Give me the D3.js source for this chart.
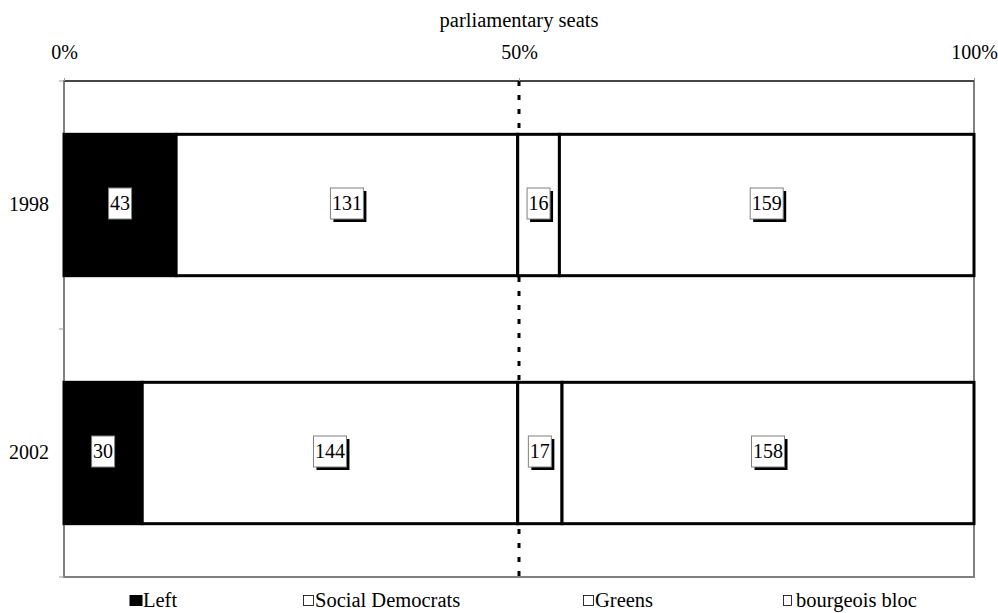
<!DOCTYPE html>
<html>
<head>
<meta charset="utf-8">
<script src="https://cdn.jsdelivr.net/npm/d3@7"></script>
<style>
body{margin:0;background:#fff;}
svg text{font-family:"Liberation Serif","DejaVu Serif",serif !important;fill:#000;}
</style>
</head>
<body>
<div id="chart"></div>
<script>
var years = ["1998","2002"];
var parties = ["Left","Social Democrats","Greens","bourgeois bloc"];
var seats1998 = [43,131,16,159];
var seats2002 = [30,144,17,158];
var tickLabels = ["0%","50%","100%"];
var partyFill = ["#000","#fff","#fff","#fff"];

var W = 998, H = 613;
var m = {left:64, right:24, top:81, bottom:36};

var svg = d3.select("#chart").append("svg").attr("width",W).attr("height",H);

var rows = years.map(function(y,i){
	var o = {year:y};
	var v = i==0 ? seats1998 : seats2002;
	parties.forEach(function(p,j){ o[p]=v[j]; });
	return o;
});
var stacked = d3.stack().keys(parties).offset(d3.stackOffsetExpand)(rows);

var x = d3.scaleLinear().domain([0,1]).range([m.left, W-m.right]);
var y = d3.scaleBand().domain(years).range([m.top, H-m.bottom]).paddingInner(0.43).paddingOuter(0.215);
var yb = d3.scaleBand().domain(years).range([m.top, H-m.bottom]);

// plot area
svg.append("rect").attr("x",x(0)).attr("y",m.top).attr("width",x(1)-x(0)).attr("height",H-m.bottom-m.top)
	.attr("fill","#fff").attr("stroke","#808080").attr("stroke-width",2);
svg.append("line").attr("x1",x(0)).attr("x2",x(1)).attr("y1",m.top).attr("y2",m.top)
	.attr("stroke","#333").attr("stroke-width",1.5);

// 50% dotted line
svg.append("line").attr("x1",x(0.5)).attr("x2",x(0.5)).attr("y1",m.top).attr("y2",H-m.bottom)
	.attr("stroke","#000").attr("stroke-width",3).attr("stroke-dasharray","5,9");

// top axis
var xAxis = svg.append("g").attr("transform","translate(0,"+m.top+")")
	.call(d3.axisTop(x).tickValues([0,0.5,1]).tickFormat(function(d,i){return tickLabels[i];}).tickSize(3).tickPadding(19));
xAxis.select(".domain").remove();
xAxis.selectAll("line").attr("stroke","#999");
xAxis.selectAll("text").attr("font-size",20);

svg.append("text").attr("x",x(0.5)).attr("y",27).attr("text-anchor","middle").attr("font-size",20.5).text("parliamentary seats");

// left axis
var yAxis = svg.append("g").attr("transform","translate("+m.left+",0)")
	.call(d3.axisLeft(y).tickSize(0).tickPadding(15));
yAxis.select(".domain").remove();
yAxis.selectAll("text").attr("font-size",20).attr("dy","0.28em");
svg.append("g").selectAll("line").data([m.top, yb(years[1]), H-m.bottom]).enter().append("line")
	.attr("x1",m.left-5).attr("x2",m.left).attr("y1",function(d){return d;}).attr("y2",function(d){return d;})
	.attr("stroke","#999");

// bars
stacked.forEach(function(s,k){
	var g = svg.append("g");
	g.selectAll("rect").data(s).enter().append("rect")
		.attr("x",function(d){return x(d[0]);})
		.attr("y",function(d){return y(d.data.year);})
		.attr("width",function(d){return x(d[1])-x(d[0]);})
		.attr("height",y.bandwidth())
		.attr("fill",partyFill[k]).attr("stroke","#000").attr("stroke-width",3);
});

// labels
stacked.forEach(function(s,k){
	s.forEach(function(d){
		var cx = (x(d[0])+x(d[1]))/2, cy = y(d.data.year)+y.bandwidth()/2;
		var g = svg.append("g");
		var t = g.append("text").attr("x",cx).attr("y",cy+5).attr("text-anchor","middle").attr("font-size",20)
			.text(d.data[s.key]);
		var bb = t.node().getBBox();
		var bx = bb.x-1.5, by = cy-17, bw = bb.width+3, bh = 31;
		g.insert("rect","text").attr("x",bx+3).attr("y",by+3).attr("width",bw).attr("height",bh).attr("fill","#000");
		g.insert("rect","text").attr("x",bx).attr("y",by).attr("width",bw).attr("height",bh)
			.attr("fill","#fff").attr("stroke","#808080").attr("stroke-width",1);
	});
});

// legend
var legX = [129,303,583,783];
var leg = svg.append("g").selectAll("g").data(parties).enter().append("g")
	.attr("transform",function(d,i){return "translate("+legX[i]+",606)";});
leg.append("rect").attr("x",0.5).attr("y",function(d,i){return i==0?-11:-10.5;})
	.attr("width",function(d,i){return i==0?13:(i==3?8:10);}).attr("height",function(d,i){return i==0?11:10;})
	.attr("fill",function(d,i){return partyFill[i];}).attr("stroke","#000").attr("stroke-width",function(d,i){return i==0?0:0.8;});
leg.append("text").attr("x",function(d,i){return i==0?14:(i==3?13:12);}).attr("y",1).attr("font-size",20.5).text(function(d){return d;});
</script>
</body>
</html>
